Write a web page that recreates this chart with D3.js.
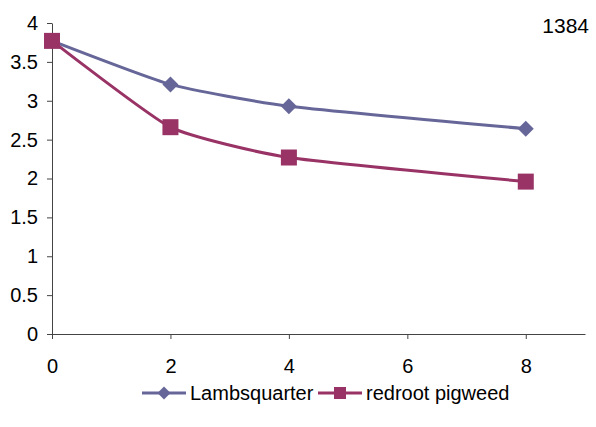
<!DOCTYPE html>
<html>
<head>
<meta charset="utf-8">
<script src="https://cdn.jsdelivr.net/npm/d3@7"></script>
<style>
  html, body { margin: 0; padding: 0; background: #fff; }
  svg { display: block; font-family: "Liberation Sans", Arial, sans-serif; }
</style>
</head>
<body>
<svg id="chart" width="596" height="427"></svg>
<script>
// Weeks after emergence and the measured values for each weed species
const weeks = [0, 2, 4, 8];
const lambsquarter = [3.77, 3.21, 2.93, 2.64];
const redrootPigweed = [3.77, 2.66, 2.27, 1.96];
const seriesNames = ["Lambsquarter", "redroot pigweed"];
const xTicks = [0, 2, 4, 6, 8];
const yTicks = [0, 0.5, 1, 1.5, 2, 2.5, 3, 3.5, 4];
const title = "1384";

const svg = d3.select("#chart");
const margin = { left: 52, top: 23, right: 11, bottom: 93 };
const W = 596, H = 427;
const fontFamily = "Liberation Sans, Arial, sans-serif";
const fontSize = 20;

const x = d3.scaleLinear().domain([0, 9]).range([margin.left, W - margin.right]);
const y = d3.scaleLinear().domain([0, 4]).range([H - margin.bottom, margin.top]);

const axisColor = "#444";

// Y axis
const yAxis = svg.append("g")
  .attr("transform", `translate(${margin.left},0)`)
  .call(d3.axisLeft(y).tickValues(yTicks).tickSize(5).tickSizeOuter(0).tickPadding(9).tickFormat(d3.format("")));
yAxis.attr("font-size", fontSize).attr("font-family", fontFamily);
yAxis.select(".domain").attr("stroke", axisColor);
yAxis.selectAll(".tick line").attr("stroke", axisColor);
yAxis.selectAll("text").attr("fill", "#000");

// X axis
const xAxis = svg.append("g")
  .attr("transform", `translate(0,${y(0)})`)
  .call(d3.axisBottom(x).tickValues(xTicks).tickSize(5).tickSizeOuter(0).tickPadding(20));
xAxis.attr("font-size", fontSize).attr("font-family", fontFamily);
xAxis.select(".domain").attr("stroke", axisColor);
xAxis.selectAll(".tick line").attr("stroke", axisColor);
xAxis.selectAll("text").attr("fill", "#000");

// Gently smoothed lines
const line = d3.line()
  .x((d, i) => x(weeks[i]))
  .y(d => y(d))
  .curve(d3.curveCardinal.tension(0.5));

const colors = ["#666699", "#993366"];
const data = [lambsquarter, redrootPigweed];

data.forEach((vals, k) => {
  svg.append("path")
    .datum(vals)
    .attr("d", line)
    .attr("fill", "none")
    .attr("stroke", colors[k])
    .attr("stroke-width", 3);
});

function diamond(g, cx, cy, r, color) {
  g.append("path")
    .attr("d", `M${cx},${cy - r}L${cx + r},${cy}L${cx},${cy + r}L${cx - r},${cy}Z`)
    .attr("fill", color);
}
function square(g, cx, cy, s, color) {
  g.append("rect")
    .attr("x", cx - s / 2).attr("y", cy - s / 2)
    .attr("width", s).attr("height", s)
    .attr("fill", color);
}

const markers = svg.append("g");
lambsquarter.forEach((v, i) => diamond(markers, x(weeks[i]), y(v), 8, colors[0]));
redrootPigweed.forEach((v, i) => square(markers, x(weeks[i]), y(v), 16, colors[1]));

// Legend
const legY = 393;
const leg = svg.append("g").attr("font-size", fontSize).attr("font-family", fontFamily);
const legItems = [
  { x0: 142, draw: (cx) => diamond(leg, cx, legY, 6.5, colors[0]) },
  { x0: 318, draw: (cx) => square(leg, cx, legY, 12, colors[1]) }
];
legItems.forEach((it, k) => {
  leg.append("line")
    .attr("x1", it.x0).attr("x2", it.x0 + 44)
    .attr("y1", legY).attr("y2", legY)
    .attr("stroke", colors[k]).attr("stroke-width", 3);
  it.draw(it.x0 + 22);
  leg.append("text")
    .attr("x", it.x0 + 48).attr("y", legY + 7)
    .text(seriesNames[k]);
});

// Corner label
svg.append("text")
  .attr("x", 589).attr("y", 33)
  .attr("text-anchor", "end")
  .attr("font-size", 21)
  .attr("font-family", fontFamily)
  .text(title);
</script>
</body>
</html>
